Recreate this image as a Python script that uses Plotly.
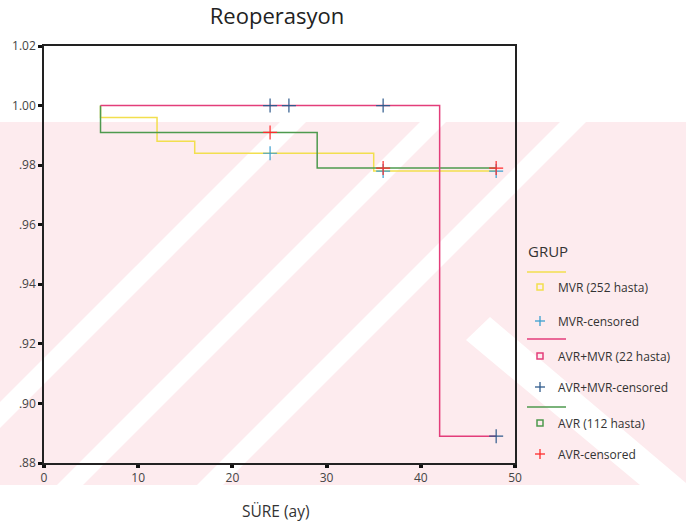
import plotly.graph_objects as go

# ---- data ----
mvr_t = [6, 6, 12, 16, 35, 48]
mvr_s = [1.0, 0.996, 0.988, 0.984, 0.978, 0.978]
mvr_cens_t = [24, 36, 48]
mvr_cens_s = [0.984, 0.978, 0.978]

avrmvr_t = [6, 42, 48]
avrmvr_s = [1.0, 0.889, 0.889]
avrmvr_cens_t = [24, 26, 36, 48]
avrmvr_cens_s = [1.0, 1.0, 1.0, 0.889]

avr_t = [6, 6, 29, 48]
avr_s = [1.0, 0.991, 0.979, 0.979]
avr_cens_t = [24, 36, 48]
avr_cens_s = [0.991, 0.979, 0.979]

y_ticks = [0.88, 0.90, 0.92, 0.94, 0.96, 0.98, 1.00, 1.02]
y_ticktext = [".88", ".90", ".92", ".94", ".96", ".98", "1.00", "1.02"]
x_ticks = [0, 10, 20, 30, 40, 50]

legend_title = "GRUP"
legend_labels = ["MVR (252 hasta)", "MVR-censored", "AVR+MVR (22 hasta)",
                 "AVR+MVR-censored", "AVR (112 hasta)", "AVR-censored"]

YELLOW = "#f2df4e"
PINK = "#e33d7a"
GREEN = "#4e9a4e"
LBLUE = "#3c9fd0"
DBLUE = "#2f5a8c"
RED = "#ff2b2b"

W, H = 686, 531
L, R, T, B = 44, 515, 46, 463


def px(x):
    return (x - L) / (R - L)


def py(y):
    return (B - y) / (B - T)


fig = go.Figure()
fig.add_trace(go.Scatter(x=mvr_t, y=mvr_s, mode="lines", line=dict(color=YELLOW, width=1.5, shape="hv"),
                         showlegend=False, name="MVR"))
fig.add_trace(go.Scatter(x=avr_t, y=avr_s, mode="lines", line=dict(color=GREEN, width=1.5, shape="hv"),
                         showlegend=False, name="AVR"))
fig.add_trace(go.Scatter(x=avrmvr_t, y=avrmvr_s, mode="lines", line=dict(color=PINK, width=1.5, shape="hv"),
                         showlegend=False, name="AVR+MVR"))
for t, s, c, n in [(mvr_cens_t, mvr_cens_s, LBLUE, "MVR-censored"),
                   (avrmvr_cens_t, avrmvr_cens_s, DBLUE, "AVR+MVR-censored"),
                   (avr_cens_t, avr_cens_s, RED, "AVR-censored")]:
    fig.add_trace(go.Scatter(x=t, y=s, mode="markers", showlegend=False, name=n, cliponaxis=False,
                             marker=dict(symbol="cross-thin", size=10, line=dict(color=c, width=1.2))))

shapes = []
# faint scan watermark
WM = "#fdebee"
shapes.append(dict(type="rect", xref="paper", yref="paper", x0=px(0), x1=px(686), y0=py(485), y1=py(122),
                   fillcolor=WM, line=dict(width=0), layer="below"))


def poly(points, color):
    d = "M " + " L ".join(f"{px(a):.4f},{py(b):.4f}" for a, b in points) + " Z"
    return dict(type="path", xref="paper", yref="paper", path=d, fillcolor=color, line=dict(width=0), layer="below")


for x0 in [-83, 57, 197]:
    shapes.append(poly([(x0, 485), (x0 + 26, 485), (x0 + 26 + 363, 122), (x0 + 363, 122)], "white"))
shapes.append(poly([(466, 340), (490, 317), (686, 483), (686, 485), (640, 485)], "white"))

# legend (manual)
leg_x_line0, leg_x_line1 = 527, 566
mx, tx = 540, 556
rows = [("line", YELLOW, 272), ("sq", YELLOW, 287, 0), ("plus", LBLUE, 321, 1),
        ("line", PINK, 339), ("sq", PINK, 356, 2), ("plus", DBLUE, 387, 3),
        ("line", GREEN, 407), ("sq", GREEN, 423, 4), ("plus", RED, 454, 5)]
annotations = []
for r in rows:
    kind, col, yy = r[0], r[1], r[2]
    if kind == "line":
        shapes.append(dict(type="line", xref="paper", yref="paper", x0=px(leg_x_line0), x1=px(leg_x_line1),
                           y0=py(yy), y1=py(yy), line=dict(color=col, width=1.5)))
        continue
    if kind == "sq":
        shapes.append(dict(type="rect", xref="paper", yref="paper", x0=px(mx - 3), x1=px(mx + 3),
                           y0=py(yy + 3), y1=py(yy - 3), line=dict(color=col, width=1.5)))
    else:
        shapes.append(dict(type="line", xref="paper", yref="paper", x0=px(mx - 5), x1=px(mx + 5),
                           y0=py(yy), y1=py(yy), line=dict(color=col, width=1.3)))
        shapes.append(dict(type="line", xref="paper", yref="paper", x0=px(mx), x1=px(mx),
                           y0=py(yy - 5), y1=py(yy + 5), line=dict(color=col, width=1.3)))
    annotations.append(dict(text=legend_labels[r[3]], xref="paper", yref="paper", x=px(tx), y=py(yy),
                            xanchor="left", yanchor="middle", showarrow=False,
                            font=dict(family="Open Sans", size=12, color="#333")))

annotations.append(dict(text=legend_title, xref="paper", yref="paper", x=px(526), y=py(251),
                        xanchor="left", yanchor="middle", showarrow=False,
                        font=dict(family="Open Sans", size=15, color="#333")))
annotations.append(dict(text="SÜRE (ay)", xref="paper", yref="paper", x=px(276), y=py(511),
                        xanchor="center", yanchor="middle", showarrow=False,
                        font=dict(family="Open Sans", size=15.5, color="#333")))

fig.update_layout(
    width=W, height=H,
    margin=dict(l=L, r=W - R, t=T, b=H - B, pad=0),
    paper_bgcolor="white", plot_bgcolor="rgba(0,0,0,0)",
    title=dict(text="Reoperasyon", x=277 / W, xanchor="center", y=1 - 16 / H, yanchor="middle",
               font=dict(family="Open Sans", size=22, color="#222")),
    shapes=shapes, annotations=annotations,
    showlegend=False,
)
fig.update_xaxes(range=[0, 50], tickvals=x_ticks, showgrid=False, zeroline=False,
                 showline=True, mirror=True, linecolor="#222", linewidth=1.5,
                 ticks="outside", ticklen=3, tickwidth=4, tickcolor="#111",
                 tickfont=dict(family="Open Sans", size=12, color="#444"))
fig.update_yaxes(range=[0.88, 1.02], tickvals=y_ticks, ticktext=y_ticktext, showgrid=False, zeroline=False,
                 showline=True, mirror=True, linecolor="#222", linewidth=1.5,
                 ticks="outside", ticklen=4, tickwidth=3, tickcolor="#111",
                 tickfont=dict(family="Open Sans", size=12, color="#444"))

fig.write_html("out.html")
